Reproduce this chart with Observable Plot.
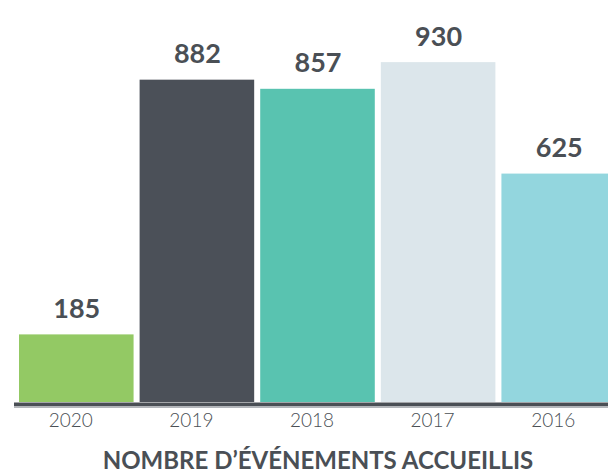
<!DOCTYPE html>
<html>
<head>
<meta charset="utf-8">
<script src="https://cdn.jsdelivr.net/npm/d3@7"></script>
<script src="https://cdn.jsdelivr.net/npm/@observablehq/plot@0.6"></script>
<style>
  html, body { margin: 0; padding: 0; background: #fff; }
  svg { display: block; }
</style>
</head>
<body>
<div id="chart"></div>
<script>
const years = ["2020", "2019", "2018", "2017", "2016"];
const values = [185, 882, 857, 930, 625];
const palette = ["#93c964", "#4b5058", "#59c3b0", "#dce6eb", "#93d6de"];
const title = "NOMBRE D’ÉVÉNEMENTS ACCUEILLIS";

const data = years.map((year, i) => ({year, value: values[i]}));
const ink = "#4a4f55";

const chart = Plot.plot({
  width: 608,
  height: 476,
  marginTop: 0,
  marginBottom: 74,
  marginLeft: 19,
  marginRight: -8,
  style: {fontFamily: "Lato, sans-serif", color: ink, background: "#fff"},
  x: {domain: years, paddingInner: 0.05, paddingOuter: 0, round: false, label: null},
  y: {domain: [0, 1100], axis: null},
  color: {domain: years, range: palette},
  marks: [
    Plot.barY(data, {x: "year", y: "value", fill: "year"}),
    Plot.ruleY([0], {stroke: ink, strokeWidth: 3.5, dy: 1.8, insetLeft: -5}),
    Plot.ruleY([0], {stroke: "#9a9ea3", strokeWidth: 1.6, dy: 4.5, insetLeft: -5}),
    Plot.text(data, {x: "year", y: "value", text: d => String(d.value), lineAnchor: "bottom", dy: -17, fontSize: 27, fontWeight: 700, fill: ink}),
    Plot.axisX({tickSize: 0, tickPadding: 11, fontSize: 19, fontWeight: 300, dx: -6, label: null, fill: ink}),
    Plot.text([title], {frameAnchor: "bottom", lineAnchor: "bottom", dy: 66, fontSize: 24, fontWeight: 700, fill: ink})
  ]
});
document.getElementById("chart").appendChild(chart);
</script>
</body>
</html>
